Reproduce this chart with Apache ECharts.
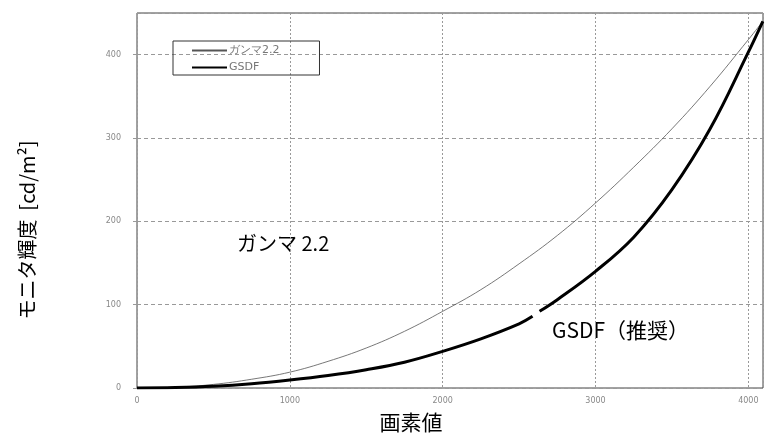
<!DOCTYPE html>
<html><head><meta charset="utf-8">
<script src="https://cdn.jsdelivr.net/npm/echarts@6/dist/echarts.min.js"></script>
<style>html,body{margin:0;padding:0;background:#fff}#c{width:765px;height:433px}</style>
</head><body><div id="c"></div>
<script>
const seriesNames = ['ガンマ2.2', 'GSDF'];
const gammaX = [0, 250, 500, 750, 1000, 1250, 1500, 1750, 2000, 2250, 2500, 2750, 3000, 3250, 3500, 3750, 4000, 4095];
const gammaY = [0, 0.9, 4.3, 10.5, 19, 32, 48, 68, 92, 118, 149, 183, 222, 265, 311, 362, 418, 440];
const gsdfX = [0, 250, 500, 750, 1000, 1250, 1500, 1750, 2000, 2250, 2500, 2588, 2610, 2634, 2750, 3000, 3250, 3500, 3750, 4000, 4095];
const gsdfY = [0, 0.5, 2, 5, 9.5, 15, 22, 31, 44, 59, 77, 86, '-', 92, 106, 140, 181, 238, 311, 403, 440];
const xTicks = [0, 1000, 2000, 3000, 4000];
const yTicks = [0, 100, 200, 300, 400];
const annotations = ['ガンマ 2.2', 'GSDF（推奨）'];
const xTitle = '画素値';
const yTitle = 'モニタ輝度  [cd/m²]';

const chart = echarts.init(document.getElementById('c'));
const pair = (xs, ys) => xs.map((x, i) => [x, ys[i]]);
chart.setOption({
  animation: false,
  grid: { left: 137, right: 2, top: 13, bottom: 45, show: true, borderColor: '#444', borderWidth: 1 },
  legend: {
    left: 173, top: 41, orient: 'vertical',
    data: seriesNames,
    borderColor: '#333', borderWidth: 1, borderRadius: 0,
    padding: [4, 40, 2, 18], itemGap: 6, itemWidth: 35, itemHeight: 10,
    itemStyle: { opacity: 0 },
    textStyle: { fontSize: 11, color: '#777', fontFamily: 'DejaVu Sans', padding: [0, 0, 0, -3] }
  },
  xAxis: {
    type: 'value', min: 0, max: 4096, interval: 1000,
    axisLine: { show: false }, axisTick: { show: false },
    axisLabel: { fontSize: 8, color: '#888', margin: 9, showMaxLabel: false, fontFamily: 'DejaVu Sans',
      formatter: v => xTicks.includes(v) ? String(v) : '' },
    splitLine: { show: true, lineStyle: { type: [2, 2], color: '#999', width: 1 } }
  },
  yAxis: {
    type: 'value', min: 0, max: 450, interval: 100,
    axisLine: { show: false },
    axisTick: { show: true, length: 4, lineStyle: { color: '#999' } },
    axisLabel: { fontSize: 8, color: '#888', margin: 16, showMaxLabel: false, fontFamily: 'DejaVu Sans',
      formatter: v => yTicks.includes(v) ? String(v) : '' },
    splitLine: { show: true, lineStyle: { type: [4, 3], color: '#999', width: 1 } }
  },
  series: [
    { name: seriesNames[0], type: 'line', data: pair(gammaX, gammaY), symbol: 'none', smooth: 0.4,
      lineStyle: { color: '#555', width: 0.8 }, itemStyle: { color: '#555' } },
    { name: seriesNames[1], type: 'line', data: pair(gsdfX, gsdfY), symbol: 'none', smooth: 0.4, connectNulls: false,
      lineStyle: { color: '#000', width: 3 }, itemStyle: { color: '#000' } }
  ],
  graphic: [
    { type: 'text', left: 237, top: 233, style: { text: annotations[0], fontSize: 20, fill: '#000', fontFamily: 'Noto Sans CJK JP' } },
    { type: 'text', left: 552, top: 320, style: { text: annotations[1], fontSize: 21, fill: '#000', fontFamily: 'Noto Sans CJK JP' } },
    { type: 'text', x: 411, y: 422, style: { text: xTitle, fontSize: 21, fill: '#000', fontFamily: 'Noto Sans CJK JP', align: 'center', verticalAlign: 'middle' } },
    { type: 'text', x: 27, y: 230, rotation: Math.PI / 2, style: { text: yTitle, fontSize: 20, fill: '#000', fontFamily: 'Noto Sans CJK JP', align: 'center', verticalAlign: 'middle' } }
  ]
});
</script></body></html>
